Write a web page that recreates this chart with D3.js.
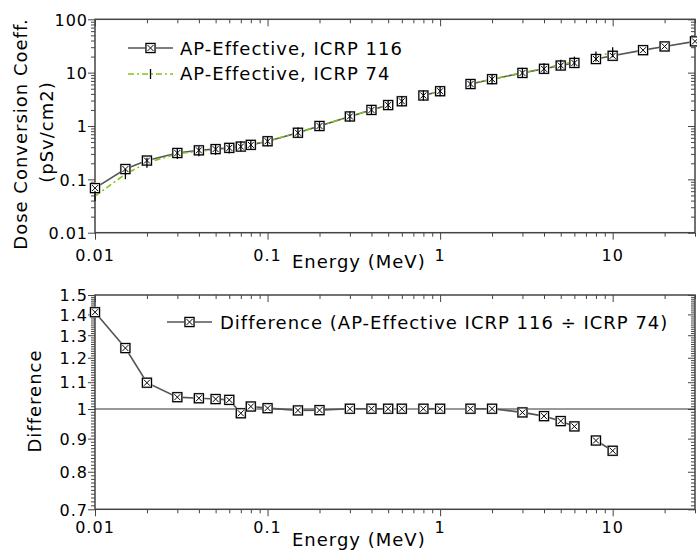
<!DOCTYPE html>
<html>
<head>
<meta charset="utf-8">
<script src="https://cdn.jsdelivr.net/npm/d3@7"></script>
<style>
  body { margin: 0; background: #fff; }
  text { font-family: "DejaVu Sans", sans-serif; fill: #000; letter-spacing: 1px; }
</style>
</head>
<body>
<svg id="chart" width="697" height="550"></svg>
<script>
// Photon energies (MeV)
const energies116 = [0.01, 0.015, 0.02, 0.03, 0.04, 0.05, 0.06, 0.07, 0.08, 0.1, 0.15, 0.2, 0.3, 0.4, 0.5, 0.6, 0.8, 1, 1.5, 2, 3, 4, 5, 6, 8, 10, 15, 20, 30];
const energies74 = [0.01, 0.015, 0.02, 0.03, 0.04, 0.05, 0.06, 0.07, 0.08, 0.1, 0.15, 0.2, 0.3, 0.4, 0.5, 0.6, 0.8, 1, 1.5, 2, 3, 4, 5, 6, 8, 10];

// AP effective dose conversion coefficients (pSv cm2)
const icrp116 = [0.0685, 0.156, 0.225, 0.312, 0.350, 0.369, 0.389, 0.411, 0.443, 0.518, 0.747, 1.00, 1.51, 2.00, 2.47, 2.91, 3.73, 4.49, 6.12, 7.55, 9.87, 11.8, 13.6, 15.2, 18.0, 20.7, 26.4, 31.0, 38.6];
const icrp74 = [0.0485, 0.125, 0.205, 0.300, 0.338, 0.357, 0.378, 0.417, 0.440, 0.517, 0.752, 1.00, 1.51, 2.00, 2.47, 2.91, 3.73, 4.49, 6.12, 7.55, 9.96, 12.1, 14.1, 16.1, 20.1, 24.0];

// Ratio ICRP 116 / ICRP 74
const ratioEnergies = energies74;
const ratio = [1.411, 1.242, 1.098, 1.043, 1.039, 1.036, 1.033, 0.985, 1.009, 1.003, 0.995, 0.996, 1.001, 1.001, 1.001, 1.001, 1.001, 1.001, 1.001, 1.001, 0.988, 0.975, 0.958, 0.940, 0.894, 0.862];

// The data file has blank lines after these energies, so the curves break there
const breaksAfter = [0.5, 0.6, 1, 6];

const xTickValues = [0.01, 0.1, 1, 10];
const xTickLabels = ["0.01", "0.1", "1", "10"];
const topYTickValues = [0.01, 0.1, 1, 10, 100];
const topYTickLabels = ["0.01", "0.1", "1", "10", "100"];
const botYTickValues = [0.7, 0.8, 0.9, 1, 1.1, 1.2, 1.3, 1.4, 1.5];
const botYTickLabels = ["0.7", "0.8", "0.9", "1", "1.1", "1.2", "1.3", "1.4", "1.5"];

const legendTop = ["AP-Effective, ICRP 116", "AP-Effective, ICRP 74"];
const legendBottom = "Difference (AP-Effective ICRP 116 \u00F7 ICRP 74)";

const svg = d3.select("#chart");
const frameColor = "#444";
const line116Color = "#555";
const green = "#82c41c";

const left = 95, right = 695;
const x = d3.scaleLog().domain([0.01, 30]).range([left, right]);
const yTop = d3.scaleLog().domain([0.01, 100]).range([232.7, 19.3]);
const yBot = d3.scaleLog().domain([0.7, 1.5]).range([509.3, 295]);

// minor tick values
const xMinor = [];
for (let d = -2; d <= 1; d++) for (let m = 2; m <= 9; m++) {
  const v = m * Math.pow(10, d);
  if (v <= 30) xMinor.push(v);
}
const yTopMinor = [];
for (let d = -2; d <= 1; d++) for (let m = 2; m <= 9; m++) yTopMinor.push(m * Math.pow(10, d));
const yBotMinor = d3.range(70, 151).map(k => k / 100).filter(v => Math.round(v * 100) % 10 !== 0);

function segments(xs, ys) {
  const segs = [];
  let cur = [];
  xs.forEach((e, i) => {
    cur.push([e, ys[i]]);
    if (breaksAfter.includes(e)) { segs.push(cur); cur = []; }
  });
  if (cur.length) segs.push(cur);
  return segs;
}

function styleAxis(g) {
  g.select(".domain").remove();
  g.selectAll(".tick line").attr("stroke", frameColor).attr("stroke-width", 1);
  g.selectAll(".tick text").attr("font-family", "DejaVu Sans").attr("font-size", 16).attr("fill", "#000");
}

function drawFrameAxes(yScale, yMajor, yMajorLabels, yMinor, yMinorSize, xLabelY) {
  const y0 = yScale.range()[0], y1 = yScale.range()[1];
  // bottom x axis (ticks outward)
  svg.append("g").attr("transform", `translate(0,${y0})`)
    .call(d3.axisBottom(x).tickValues(xMinor).tickSize(4).tickFormat("")).call(styleAxis);
  svg.append("g").attr("transform", `translate(0,${y0})`)
    .call(d3.axisBottom(x).tickValues(xTickValues).tickSize(7).tickFormat("")).call(styleAxis);
  // top x axis (ticks inward)
  svg.append("g").attr("transform", `translate(0,${y1})`)
    .call(d3.axisTop(x).tickValues(xMinor).tickSize(-4).tickFormat("")).call(styleAxis);
  svg.append("g").attr("transform", `translate(0,${y1})`)
    .call(d3.axisTop(x).tickValues(xTickValues).tickSize(-7).tickFormat("")).call(styleAxis);
  // left y axis (ticks outward)
  svg.append("g").attr("transform", `translate(${left},0)`)
    .call(d3.axisLeft(yScale).tickValues(yMinor).tickSize(yMinorSize).tickFormat("")).call(styleAxis);
  svg.append("g").attr("transform", `translate(${left},0)`)
    .call(d3.axisLeft(yScale).tickValues(yMajor).tickSize(7).tickPadding(0)
      .tickFormat((d, i) => yMajorLabels[i])).call(styleAxis)
    .selectAll(".tick text").attr("x", -7).attr("dy", "0.36em");
  // right y axis (ticks inward)
  svg.append("g").attr("transform", `translate(${right},0)`)
    .call(d3.axisRight(yScale).tickValues(yMinor).tickSize(-yMinorSize).tickFormat("")).call(styleAxis);
  svg.append("g").attr("transform", `translate(${right},0)`)
    .call(d3.axisRight(yScale).tickValues(yMajor).tickSize(-7).tickFormat("")).call(styleAxis);
  // x tick labels
  svg.append("g").selectAll("text").data(xTickValues).join("text")
    .attr("x", d => x(d)).attr("y", xLabelY).attr("text-anchor", "middle")
    .attr("font-size", 16).text((d, i) => xTickLabels[i]);
  // frame
  svg.append("rect").attr("x", left).attr("y", y1).attr("width", right - left).attr("height", y0 - y1)
    .attr("fill", "none").attr("stroke", frameColor).attr("stroke-width", 1.5);
}

function boxMarker(g, cx, cy, s) {
  const h = s / 2;
  g.append("rect").attr("x", cx - h - 1).attr("y", cy - h - 1).attr("width", s + 2).attr("height", s + 2)
    .attr("fill", "#b8b8b8");
  g.append("rect").attr("x", cx - h).attr("y", cy - h).attr("width", s).attr("height", s)
    .attr("fill", "#fff").attr("stroke", "#000").attr("stroke-width", 1.2);
  g.append("path").attr("d", `M${cx - h + 1.5},${cy - h + 1.5}L${cx + h - 1.5},${cy + h - 1.5}M${cx + h - 1.5},${cy - h + 1.5}L${cx - h + 1.5},${cy + h - 1.5}`)
    .attr("stroke", "#000").attr("stroke-width", 1);
}

function tickMarker(g, cx, cy) {
  g.append("line").attr("x1", cx).attr("x2", cx).attr("y1", cy - 5).attr("y2", cy + 5)
    .attr("stroke", "#000").attr("stroke-width", 1.3);
}

// ---------- Top panel ----------
drawFrameAxes(yTop, topYTickValues, topYTickLabels, yTopMinor, 4, 261);

const lineTop = d3.line().x(d => x(d[0])).y(d => yTop(d[1]));

svg.append("g").selectAll("path").data(segments(energies116, icrp116)).join("path")
  .attr("d", lineTop).attr("fill", "none").attr("stroke", line116Color).attr("stroke-width", 1.6);
svg.append("g").selectAll("path").data(segments(energies74, icrp74)).join("path")
  .attr("d", lineTop).attr("fill", "none").attr("stroke", green).attr("stroke-width", 1.6)
  .attr("stroke-dasharray", "6,3,2,3");

const mTop = svg.append("g");
energies116.forEach((e, i) => boxMarker(mTop, x(e), yTop(icrp116[i]), 9));
energies74.forEach((e, i) => tickMarker(mTop, x(e), yTop(icrp74[i])));

// top legend
const lg = svg.append("g");
lg.append("line").attr("x1", 128).attr("x2", 173).attr("y1", 48).attr("y2", 48)
  .attr("stroke", line116Color).attr("stroke-width", 1.6);
boxMarker(lg, 150.5, 48, 9);
lg.append("text").attr("x", 180).attr("y", 55).attr("font-size", 18).text(legendTop[0]);
lg.append("line").attr("x1", 128).attr("x2", 173).attr("y1", 74).attr("y2", 74)
  .attr("stroke", green).attr("stroke-width", 1.6).attr("stroke-dasharray", "6,3,2,3");
tickMarker(lg, 150.5, 74);
lg.append("text").attr("x", 180).attr("y", 80).attr("font-size", 18).text(legendTop[1]);

svg.append("text").attr("x", 292).attr("y", 268)
  .attr("font-size", 18).text("Energy (MeV)");
svg.append("text").attr("transform", "translate(27,134) rotate(-90)").attr("text-anchor", "middle")
  .attr("font-size", 18).text("Dose Conversion Coeff.");
svg.append("text").attr("transform", "translate(53,132) rotate(-90)").attr("text-anchor", "middle")
  .attr("font-size", 18).text("(pSv/cm2)");

// ---------- Bottom panel ----------
drawFrameAxes(yBot, botYTickValues, botYTickLabels, yBotMinor, 4, 533);

svg.append("line").attr("x1", left).attr("x2", right).attr("y1", yBot(1)).attr("y2", yBot(1))
  .attr("stroke", "#333").attr("stroke-width", 1.2);

const lineBot = d3.line().x(d => x(d[0])).y(d => yBot(d[1]));
svg.append("g").selectAll("path").data(segments(ratioEnergies, ratio)).join("path")
  .attr("d", lineBot).attr("fill", "none").attr("stroke", line116Color).attr("stroke-width", 1.6);
const mBot = svg.append("g");
ratioEnergies.forEach((e, i) => boxMarker(mBot, x(e), yBot(ratio[i]), 9));

const lb = svg.append("g");
lb.append("line").attr("x1", 167).attr("x2", 212).attr("y1", 322).attr("y2", 322)
  .attr("stroke", line116Color).attr("stroke-width", 1.6);
boxMarker(lb, 189.5, 322, 9);
lb.append("text").attr("x", 220).attr("y", 329).attr("font-size", 18).text(legendBottom);

svg.append("text").attr("x", 292).attr("y", 546)
  .attr("font-size", 18).text("Energy (MeV)");
svg.append("text").attr("transform", "translate(41,401) rotate(-90)").attr("text-anchor", "middle")
  .attr("font-size", 18).text("Difference");
</script>
</body>
</html>
